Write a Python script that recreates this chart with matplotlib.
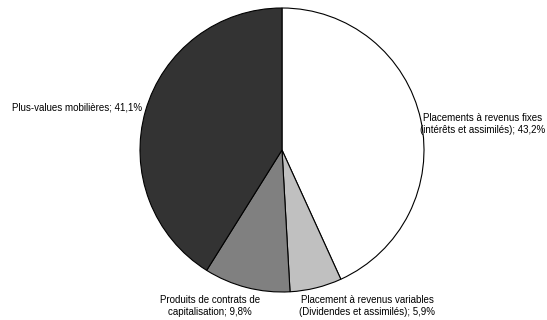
import matplotlib.pyplot as plt

plt.rcParams['font.family'] = ['Liberation Sans', 'DejaVu Sans']

labels = ['Placements à revenus fixes\n(intérêts et assimilés); 43,2%',
          'Placement à revenus variables\n(Dividendes et assimilés); 5,9%',
          'Produits de contrats de\ncapitalisation; 9,8%',
          'Plus-values mobilières; 41,1%']
values = [43.2, 5.9, 9.8, 41.1]
colors = ['#ffffff', '#c0c0c0', '#808080', '#333333']

# positions des étiquettes (pixels depuis le haut)
label_pos = [(483, 124), (367, 306), (210, 306), (77, 108)]

fig = plt.figure(figsize=(5.47, 3.2), dpi=100)
ax = fig.add_axes([0, 0, 1, 1])

ax.pie(values, colors=colors, startangle=90, counterclock=False,
       center=(282, 320 - 150), radius=142,
       wedgeprops=dict(edgecolor='black', linewidth=0.8))
ax.set_xlim(0, 547)
ax.set_ylim(0, 320)
ax.set_aspect('equal')
ax.axis('off')

for lab, (x, y) in zip(labels, label_pos):
    ax.text(x, 320 - y, lab, ha='center', va='center', fontsize=7, linespacing=1.3)

fig.savefig('out.png', dpi=100)
